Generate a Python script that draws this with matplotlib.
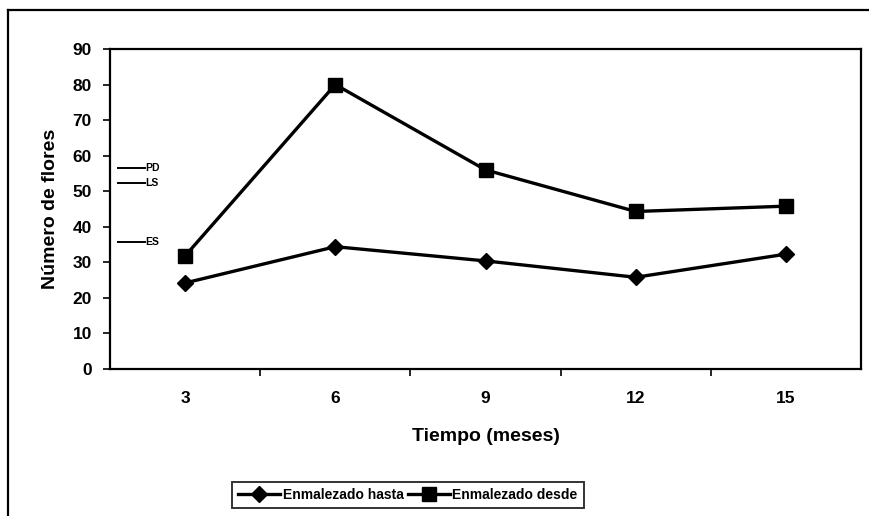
import matplotlib.pyplot as plt
import matplotlib.transforms as mtransforms
from matplotlib.lines import Line2D
import numpy as np

# datos
meses = ['3', '6', '9', '12', '15']
hasta = [24.2, 34.4, 30.4, 25.8, 32.3]
desde = [31.8, 80.0, 56.0, 44.3, 45.8]
ref_labels = ['PD', 'LS', 'ES']
ref_values = [56.5, 52.3, 35.7]

plt.rcParams['font.family'] = ['Liberation Sans', 'DejaVu Sans']
plt.rcParams['font.weight'] = 'bold'

W, H = 870, 516
fig = plt.figure(figsize=(W / 100, H / 100), dpi=100)
ax = fig.add_axes([110 / W, 1 - 369 / H, (861 - 110) / W, (369 - 49) / H])

x = np.arange(len(meses))
ax.plot(x, hasta, color='black', lw=2.4, marker='D', ms=8.5,
        label='Enmalezado hasta')
ax.plot(x, desde, color='black', lw=2.4, marker='s', ms=9.5,
        label='Enmalezado desde')

ax.set_xlim(-0.5, len(meses) - 0.5)
ax.set_ylim(0, 90)
ax.set_yticks(np.arange(0, 91, 10))
ax.set_xticks(x)
ax.set_xticklabels(meses)
ax.set_xticks(np.arange(0.5, len(meses) - 0.5, 1), minor=True)
ax.tick_params(axis='x', which='major', length=0, pad=16, labelsize=12.5)
ax.tick_params(axis='x', which='minor', length=5, width=1.2, direction='out')
ax.tick_params(axis='y', length=5, width=1.2, direction='out', pad=8, labelsize=12.5)
for s in ax.spines.values():
    s.set_linewidth(1.6)

ax.set_xlabel('Tiempo (meses)', fontsize=14, fontweight='bold', labelpad=16)
ax.set_ylabel('Número de flores', fontsize=14, fontweight='bold', labelpad=10)

# marcas de referencia PD, LS, ES
trans = mtransforms.blended_transform_factory(ax.transAxes, ax.transData)
for lab, val in zip(ref_labels, ref_values):
    ax.plot([0.011, 0.047], [val, val], color='black', lw=1.4,
            transform=trans, clip_on=False)
    ax.text(0.047, val, lab, transform=trans, fontsize=7.5, fontweight='bold',
            va='center', ha='left')

leg = fig.legend(loc='center', bbox_to_anchor=(408 / W, 1 - 495 / H),
                 ncol=2, frameon=True, fancybox=False,
                 prop={'weight': 'bold', 'size': 10},
                 handlelength=3.0, columnspacing=0.3, handletextpad=0.2,
                 borderpad=0.45)
leg.get_frame().set_edgecolor('black')
leg.get_frame().set_linewidth(1.4)

# marco exterior
fig.add_artist(Line2D([8 / W, 8 / W], [0, 1 - 10 / H], color='black', lw=1.6))
fig.add_artist(Line2D([8 / W, 1], [1 - 10 / H, 1 - 10 / H], color='black', lw=1.6))

fig.savefig('out.png', dpi=100)
